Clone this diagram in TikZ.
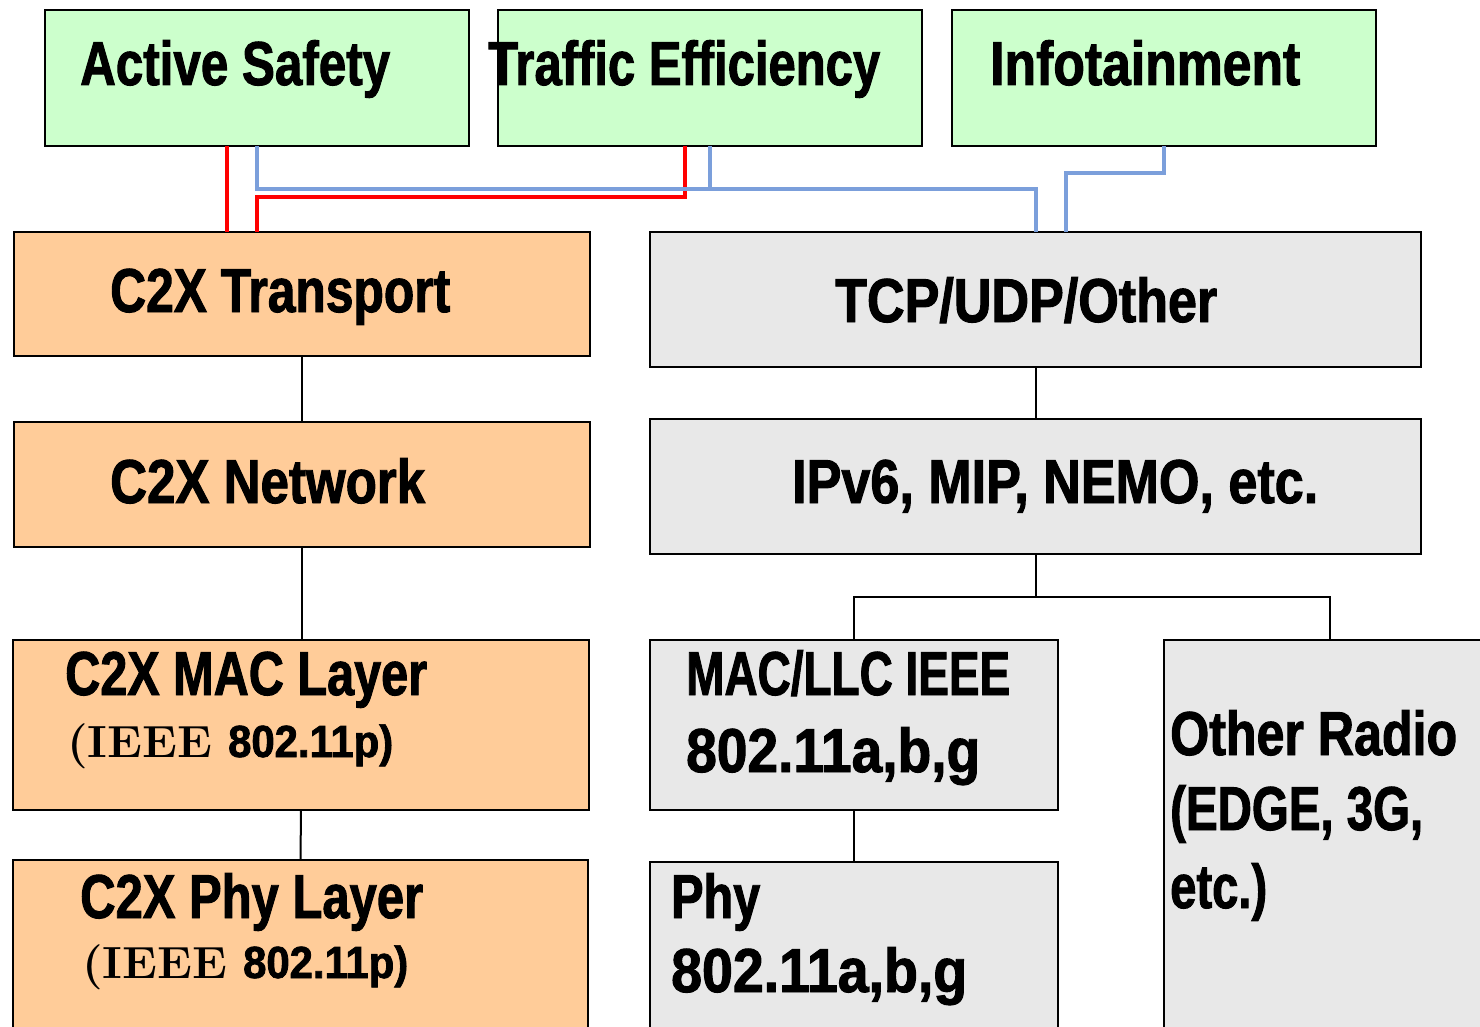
\documentclass[tikz,border=0pt]{standalone}
\usepackage{fontspec}
\newfontfamily\cf[FakeStretch=0.78,FakeBold=1.5]{Liberation Sans Bold}
\usetikzlibrary{calc}
\definecolor{boxgreen}{HTML}{CCFFCC}
\definecolor{boxorange}{HTML}{FFCC99}
\definecolor{boxgrey}{HTML}{E8E8E8}
\definecolor{lineblue}{HTML}{7B9FDB}
\definecolor{linered}{HTML}{FF0000}
\newcommand\fw[2]{\resizebox{#1pt}{\height}{#2}}
\newcommand\ieee{{\rmfamily\bfseries\fontsize{45}{50}\selectfont(IEEE}}
\begin{document}
\begin{tikzpicture}[x=1pt,y=-1pt,
  box/.style={draw=black,line width=2.5pt,anchor=north west,inner sep=0pt,outer sep=0pt},
  gbox/.style={box,fill=boxgreen},
  obox/.style={box,fill=boxorange},
  ybox/.style={box,fill=boxgrey},
  lbl/.style={anchor=base west,inner sep=0pt,font=\cf\fontsize{62}{70}\selectfont},
  sub/.style={anchor=base west,inner sep=0pt,font=\cf\fontsize{45}{50}\selectfont},
  conn/.style={draw=black,line width=2pt},
  redl/.style={draw=linered,line width=4pt},
  bluel/.style={draw=lineblue,line width=4pt}
]
\useasboundingbox (0,0) rectangle (1480,1027);
\fill[white] (0,0) rectangle (1480,1027);
\clip (0,0) rectangle (1480,1027);

% boxes
\node[gbox,minimum width=424pt,minimum height=136pt] (as) at (45,10) {};
\node[gbox,minimum width=424pt,minimum height=136pt] (te) at (498,10) {};
\node[gbox,minimum width=424pt,minimum height=136pt] (inf) at (952,10) {};
\node[obox,minimum width=576pt,minimum height=124pt] (tr) at (14,232) {};
\node[ybox,minimum width=771pt,minimum height=135pt] (tcp) at (650,232) {};
\node[obox,minimum width=576pt,minimum height=125pt] (net) at (14,422) {};
\node[ybox,minimum width=771pt,minimum height=135pt] (ip) at (650,419) {};
\node[obox,minimum width=576pt,minimum height=170pt] (mac) at (13,640) {};
\node[obox,minimum width=575pt,minimum height=200pt] (phy) at (13,860) {};
\node[ybox,minimum width=408pt,minimum height=170pt] (mll) at (650,640) {};
\node[ybox,minimum width=408pt,minimum height=200pt] (ph2) at (650,862) {};
\node[ybox,minimum width=332pt,minimum height=420pt] (oth) at (1164,640) {};

% labels
\node[lbl] (tas) at (80,85) {\fw{310}{Active Safety}};
\node[lbl] (tte) at (488,85) {\fw{392}{Traffic Efficiency}};
\node[lbl] (tinf) at (990,85) {\fw{310}{Infotainment}};
\node[lbl] (ttr) at (110,312) {\fw{340}{C2X Transport}};
\node[lbl] (ttcp) at (835,322) {\fw{382}{TCP/UDP/Other}};
\node[lbl] (tnet) at (110,503) {\fw{315}{C2X Network}};
\node[lbl] (tip) at (792,503) {\fw{526}{IPv6, MIP, NEMO, etc.}};
\node[lbl] (tmac) at (65,695) {\fw{362}{C2X MAC Layer}};
\node[sub] (smac) at (67,757) {\fw{145}{\ieee}\hspace{16pt}\fw{165}{802.11p)}};
\node[lbl] (tphy) at (80,918) {\fw{343}{C2X Phy Layer}};
\node[sub] (sphy) at (82,978) {\fw{145}{\ieee}\hspace{16pt}\fw{165}{802.11p)}};
\node[lbl] (tmll) at (686,695) {\fw{324}{MAC/LLC IEEE}};
\node[lbl] (tmll2) at (686,772) {\fw{294}{802.11a,b,g}};
\node[lbl] (tph2) at (671,918) {\fw{89}{Phy}};
\node[lbl] (tph22) at (671,992) {\fw{296}{802.11a,b,g}};
\node[lbl] (toth) at (1170,755) {\fw{287}{Other Radio}};
\node[lbl] (toth2) at (1170,830) {\fw{253}{(EDGE, 3G,}};
\node[lbl] (toth3) at (1170,908) {\fw{97}{etc.)}};

% black connectors
\draw[conn] (tr.south) -- (net.north);
\draw[conn] (net.south) -- (mac.north -| net.south);
\draw[conn] (mac.south) -- (phy.north);
\draw[conn] (tcp.south) -- (ip.north);
\coordinate (bj) at ($(ip.south)+(0,43)$);
\draw[conn] (ip.south) -- (bj);
\draw[conn] (mll.north) |- (bj) -| (oth.north);
\draw[conn] (mll.south) -- (ph2.north);

% red connectors
\coordinate (r1) at ([xshift=182pt]as.south west);
\draw[redl] (r1) -- (r1 |- tr.north);
\coordinate (r2) at ([xshift=187pt]te.south west);
\coordinate (r2e) at ([xshift=243pt]tr.north west);
\coordinate (ry) at (0,197);
\draw[redl] (r2) -- (r2 |- ry) -- (r2e |- ry) -- (r2e);

% blue connectors
\coordinate (b1) at ([xshift=212pt]as.south west);
\coordinate (by) at (0,189);
\coordinate (b1e) at ([xshift=386pt]tcp.north west);
\draw[bluel] (b1) -- (b1 |- by) -- (b1e |- by) -- (b1e);
\coordinate (b2) at ([xshift=212pt]te.south west);
\draw[bluel] (b2) -- (b2 |- by);
\coordinate (b3) at ([xshift=212pt]inf.south west);
\coordinate (b3y) at (0,173);
\coordinate (b3e) at ([xshift=416pt]tcp.north west);
\draw[bluel] (b3) -- (b3 |- b3y) -- (b3e |- b3y) -- (b3e);
\end{tikzpicture}
\end{document}
